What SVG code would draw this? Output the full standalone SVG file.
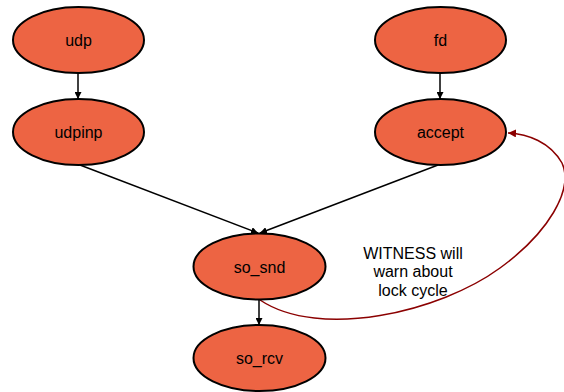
<svg xmlns="http://www.w3.org/2000/svg" width="564" height="392" viewBox="0 0 564 392">
<style>
.n ellipse{fill:#ED6443;stroke:#000;stroke-width:2}
.n text{font-family:"Liberation Sans",Arial,sans-serif;font-size:16px;text-anchor:middle;fill:#000}
.e{stroke:#000;stroke-width:1.5;fill:none;marker-end:url(#a)}
.r{stroke:#8B0000;stroke-width:1.5;fill:none;marker-end:url(#ar)}
.lbl{font-family:"Liberation Sans",Arial,sans-serif;font-size:16px;text-anchor:middle;fill:#000}
</style>
<defs>
<marker id="a" viewBox="0 0 10 10" refX="10" refY="5" markerWidth="7" markerHeight="7" markerUnits="userSpaceOnUse" orient="auto"><path d="M0,0 L10,5 L0,10 Z" fill="#000"/></marker>
<marker id="ar" viewBox="0 0 10 10" refX="10" refY="5" markerWidth="8" markerHeight="8" markerUnits="userSpaceOnUse" orient="auto"><path d="M0,0 L10,5 L0,10 Z" fill="#8B0000"/></marker>
</defs>
<rect width="564" height="392" fill="#fff"/>
<g id="edges">
<line class="e" x1="78" y1="73" x2="78" y2="99"/>
<line class="e" x1="440" y1="73" x2="440" y2="99"/>
<line class="e" x1="80" y1="165" x2="258" y2="233"/>
<line class="e" x1="438" y1="165" x2="260" y2="233"/>
<line class="e" x1="259" y1="300" x2="259" y2="325"/>
<path class="r" d="M260,300 C320,340 440,312 500,268 C548,233 574,190 562,163 C550,142 528,134 508,133"/>
</g>
<g id="udp" class="n"><ellipse cx="78.5" cy="40" rx="65.5" ry="33"/><text x="78.5" y="46">udp</text></g>
<g id="udpinp" class="n"><ellipse cx="78.5" cy="132" rx="65.5" ry="33"/><text x="78.5" y="138">udpinp</text></g>
<g id="fd" class="n"><ellipse cx="440.5" cy="40" rx="65.5" ry="33"/><text x="440.5" y="46">fd</text></g>
<g id="accept" class="n"><ellipse cx="440.5" cy="132" rx="65.5" ry="33"/><text x="440.5" y="138">accept</text></g>
<g id="so_snd" class="n"><ellipse cx="259.5" cy="266.5" rx="66" ry="33"/><text x="259.5" y="272.5">so_snd</text></g>
<g id="so_rcv" class="n"><ellipse cx="259.5" cy="358" rx="66" ry="33"/><text x="259.5" y="364">so_rcv</text></g>
<g id="note"><text class="lbl" x="413" y="259">WITNESS will</text><text class="lbl" x="413" y="277">warn about</text><text class="lbl" x="413" y="296">lock cycle</text></g>
</svg>
